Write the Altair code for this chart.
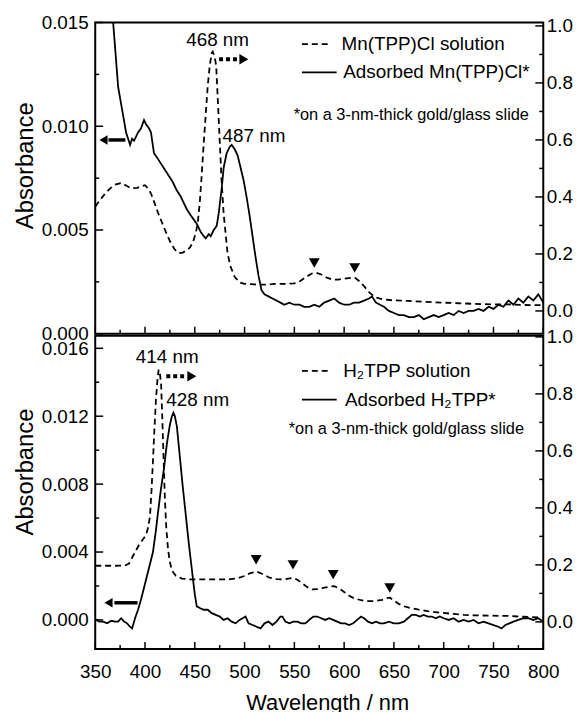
import altair as alt
import pandas as pd

FONT = "Liberation Sans"
W, H_TOP, H_BOT = 452, 314, 316
X_DOMAIN = [350, 800]

# ---------------- axis tick values ----------------
x_major = [350, 400, 450, 500, 550, 600, 650, 700, 750, 800]
x_minor = [375, 425, 475, 525, 575, 625, 675, 725, 775]
top_left_major = [0.0, 0.005, 0.010, 0.015]
top_left_minor = [0.0025, 0.0075, 0.0125]
bot_left_major = [0.0, 0.004, 0.008, 0.012, 0.016]
bot_left_minor = [0.002, 0.006, 0.010, 0.014]
right_major = [0.0, 0.2, 0.4, 0.6, 0.8, 1.0]
right_minor = [0.1, 0.3, 0.5, 0.7, 0.9]

# ---------------- top panel: Mn(TPP)Cl ----------------
mn_ads_wl = [366, 368, 373, 377, 381, 385, 387, 389, 393, 396, 399, 401, 404, 406, 409, 412, 416, 420,
             424, 428, 432, 436, 439, 442, 446, 449, 452, 456, 459, 461, 464, 466, 469, 472, 474, 477,
             479, 482, 485, 487, 490, 493, 496, 499, 502, 505, 508, 511, 514, 517, 520, 524, 528, 532,
             536, 540, 545, 550, 555, 560, 565, 570, 575, 580, 585, 590, 595, 600, 605, 610, 615, 620,
             625, 628, 632, 636, 640, 645, 650, 655, 660, 665, 670, 675, 680, 685, 690, 695, 700, 705,
             710, 715, 720, 725, 730, 735, 740, 745, 750, 755, 760, 765, 770, 775, 780, 785, 790, 795, 800]
mn_ads_abs = [0.0155, 0.0150, 0.0119, 0.0108, 0.0097, 0.0091, 0.0094, 0.0093, 0.0097, 0.0099, 0.0103,
              0.0101, 0.0099, 0.0097, 0.0087, 0.0085, 0.0082, 0.0079, 0.0076, 0.0073, 0.0069, 0.0066,
              0.0063, 0.0060, 0.0057, 0.0055, 0.0053, 0.0049, 0.0047, 0.0046, 0.0048, 0.0047, 0.0050,
              0.0052, 0.0058, 0.0070, 0.0080, 0.0087, 0.0090, 0.0091, 0.0089, 0.0086, 0.0080, 0.0074,
              0.0066, 0.0057, 0.0047, 0.0037, 0.0028, 0.0021, 0.0019, 0.0018, 0.0017, 0.0016, 0.0015,
              0.0014, 0.0015, 0.0014, 0.0014, 0.0013, 0.0013, 0.0014, 0.0013, 0.0015, 0.0016, 0.0017,
              0.0015, 0.0014, 0.0014, 0.0015, 0.0015, 0.0016, 0.0017, 0.0018, 0.0015, 0.0014, 0.0013,
              0.0011, 0.0010, 0.0009, 0.0009, 0.0008, 0.0008, 0.0009, 0.0007, 0.0008, 0.0009, 0.0008,
              0.0009, 0.0010, 0.0009, 0.0011, 0.0010, 0.0011, 0.0011, 0.0012, 0.0011, 0.0013, 0.0012,
              0.0014, 0.0013, 0.0016, 0.0014, 0.0017, 0.0015, 0.0018, 0.0016, 0.0019, 0.0015]

mn_sol_wl = [350, 355, 360, 365, 370, 376, 381, 386, 392, 397, 400, 403, 406, 410, 413, 416, 420, 423,
             426, 430, 434, 438, 442, 445, 448, 451, 453, 455, 457, 459, 461, 463, 465, 467, 468, 470,
             471.5, 473, 475, 477, 479, 481, 483, 486, 490, 495, 500, 510, 520, 530, 540, 550, 556, 562,
             568, 572, 577, 582, 588, 594, 600, 606, 611, 615, 620, 625, 631, 640, 650, 665, 680, 700,
             715, 730, 750, 765, 780, 800]
mn_sol_abs = [0.366, 0.390, 0.412, 0.430, 0.443, 0.449, 0.440, 0.430, 0.432, 0.438, 0.441, 0.430, 0.412,
              0.375, 0.345, 0.319, 0.285, 0.260, 0.238, 0.215, 0.203, 0.205, 0.213, 0.222, 0.240, 0.273,
              0.310, 0.380, 0.480, 0.590, 0.690, 0.790, 0.860, 0.905, 0.910, 0.890, 0.860, 0.750, 0.600,
              0.450, 0.340, 0.270, 0.200, 0.155, 0.120, 0.100, 0.095, 0.093, 0.092, 0.095, 0.095, 0.097,
              0.105, 0.120, 0.132, 0.134, 0.128, 0.118, 0.110, 0.110, 0.113, 0.116, 0.116, 0.105, 0.087,
              0.066, 0.048, 0.040, 0.037, 0.035, 0.032, 0.029, 0.027, 0.025, 0.023, 0.023, 0.021, 0.020]
mn_tri_wl = [570, 610.6]
mn_tri_abs = [0.168, 0.151]

# ---------------- bottom panel: H2TPP ----------------
h2_ads_wl = [350, 354, 358, 362, 366, 370, 373, 376, 379, 382, 385, 387, 390, 393, 396, 399, 402, 405,
             408, 411, 413, 416, 419, 422, 425, 427, 428.5, 430, 432, 434, 436, 438, 440, 442, 444, 446,
             448, 450, 452, 455, 459, 463, 467, 471, 475, 479, 483, 487, 491, 495, 498, 501, 504, 508,
             512, 516, 520, 524, 528, 532, 536, 538, 541, 545, 549, 553, 557, 561, 565, 569, 573, 577,
             581, 585, 589, 593, 597, 601, 605, 609, 613, 617, 620, 624, 628, 632, 636, 640, 645, 650,
             655, 660, 664, 668, 672, 676, 680, 684, 688, 692, 696, 700, 705, 710, 715, 720, 725, 730,
             735, 740, 745, 750, 755, 758, 762, 766, 770, 775, 780, 785, 790, 795, 800]
h2_ads_abs = [0.00004, -0.0001, -0.0001, -0.0002, -0.00005, -0.0001, -0.0001, 0.0001, -0.0001, -0.0002,
              -0.0004, -0.0005, 0.0001, 0.0006, 0.0012, 0.0019, 0.0026, 0.0033, 0.0040, 0.0053, 0.0063,
              0.0077, 0.0089, 0.0104, 0.0115, 0.0120, 0.0122, 0.0120, 0.0114, 0.0102, 0.0090, 0.0078,
              0.0067, 0.0056, 0.0045, 0.0035, 0.0025, 0.0015, 0.0008, 0.0007, 0.0006, 0.0006, 0.0004,
              0.0003, 0.0002, 0.0000, 0.0001, -0.0001, -0.0002, 0.0000, 0.0001, 0.0002, -0.0002, -0.0003,
              -0.0004, -0.0005, -0.0002, -0.0001, -0.0003, -0.0001, 0.0002, 0.0002, -0.0001, -0.0002,
              -0.0001, -0.0001, -0.0002, -0.0002, 0.0000, 0.0002, 0.0002, 0.0001, 0.0000, 0.0001, 0.0000,
              -0.0001, -0.0002, -0.0002, -0.0003, -0.0002, 0.0000, 0.0002, 0.0001, -0.0001, -0.0002,
              -0.0001, -0.0002, -0.0002, -0.0001, -0.0002, -0.0002, -0.0001, 0.0001, 0.0003, 0.0003,
              0.0002, 0.0003, 0.0002, 0.0002, 0.0001, 0.0002, 0.0001, 0.0000, 0.0001, -0.0001, 0.0000,
              -0.0001, 0.0000, -0.0002, -0.0001, -0.0002, -0.0003, -0.0004, -0.0005, -0.0003, -0.0002,
              -0.0001, 0.0000, 0.0001, 0.0001, 0.0000, 0.0001, -0.0001]

h2_sol_wl = [350, 360, 370, 380, 384, 387, 390, 394, 398, 401, 403, 405, 406.5, 408, 409.5, 411, 412.5,
             413.7, 415, 416.2, 417.5, 418.7, 420, 421.3, 423, 424.5, 427, 431, 437, 446, 460, 475, 486,
             493, 499, 505, 512, 518, 525, 532, 539, 544, 549, 553, 558, 563, 568, 574, 580, 586, 590,
             595, 600, 605, 610, 617, 624, 631, 638, 643, 646, 650, 655, 660, 665, 675, 685, 697, 710,
             720, 731, 745, 764, 780, 800]
h2_sol_abs = [0.197, 0.197, 0.197, 0.198, 0.205, 0.225, 0.245, 0.270, 0.290, 0.305, 0.330, 0.370, 0.460,
              0.566, 0.680, 0.780, 0.850, 0.885, 0.870, 0.832, 0.700, 0.566, 0.430, 0.334, 0.260, 0.218,
              0.180, 0.162, 0.152, 0.149, 0.149, 0.149, 0.150, 0.153, 0.160, 0.170, 0.177, 0.168, 0.155,
              0.150, 0.149, 0.152, 0.154, 0.148, 0.135, 0.122, 0.114, 0.115, 0.120, 0.124, 0.125, 0.118,
              0.105, 0.092, 0.083, 0.076, 0.073, 0.073, 0.077, 0.083, 0.085, 0.075, 0.063, 0.055, 0.050,
              0.043, 0.037, 0.032, 0.028, 0.025, 0.023, 0.022, 0.021, 0.018, 0.015]
h2_tri_wl = [511.6, 548.6, 589, 645.8]
h2_tri_abs = [0.218, 0.200, 0.166, 0.119]

# ---------------- annotations (data coordinates) ----------------
top_ann = dict(
    peaks=[("468 nm", 472.9, 0.952), ("487 nm", 509.4, 0.615)],
    left_arrow=(363.3, 380.3, 358.3, 0.00934),
    right_arrow=(474.4, 492.6, 499.3, 0.883),
    legend=[("Mn(TPP)Cl solution", 557.6, 587.5, 597.4, 0.936, True),
            ("Adsorbed Mn(TPP)Cl*", 557.6, 592.5, 599.1, 0.837, False)],
    note=(549.3, 0.689),
)
bot_ann = dict(
    peaks=[("414 nm", 422.3, 0.928), ("428 nm", 452.9, 0.777)],
    left_arrow=(369.2, 392.5, 363.3, 0.00101),
    right_arrow=(421.4, 440.0, 447.0, 0.862),
    legend=[("H\u2082TPP solution", 557.6, 587.5, 599.1, 0.881, True),
            ("Adsorbed H\u2082TPP*", 557.6, 592.5, 600.8, 0.780, False)],
    note=(544.3, 0.676),
)
NOTE_TEXT = "*on a 3-nm-thick gold/glass slide"

DASH = [6, 4]
LW = 1.8


def panel(H, left_dom, right_dom, left_major, left_minor, ads_wl, ads_abs, sol_wl, sol_abs,
          tri_wl, tri_abs, ann, show_x, title_y):
    xs = alt.Scale(domain=X_DOMAIN, nice=False, zero=False)
    ls = alt.Scale(domain=left_dom, nice=False, zero=False)
    rs = alt.Scale(domain=right_dom, nice=False, zero=False)

    # only the main layer of each scale carries explicit axis settings;
    # the other layers leave the axis unspecified so that the shared axis is kept.
    def X(field, main=False):
        if not show_x:
            return alt.X(field, scale=xs, axis=None)
        if main:
            return alt.X(field, scale=xs, axis=alt.Axis(
                values=x_major, format="d", labelPadding=14, labelFontSize=19,
                title="Wavelength / nm", titleFontSize=22, titleFontWeight="normal",
                titlePadding=11, titleX=234))
        return alt.X(field, scale=xs)

    def YL(field, main=False):
        if main:
            return alt.Y(field, scale=ls, axis=alt.Axis(
                values=left_major, format=".3f", labelPadding=7, labelFontSize=19,
                title="Absorbance", titleFontSize=24, titleFontWeight="normal",
                titlePadding=4, titleY=title_y))
        return alt.Y(field, scale=ls)

    def YR(field, main=False):
        if main:
            return alt.Y(field, scale=rs, axis=alt.Axis(
                orient="right", values=right_major, format=".1f", labelPadding=3,
                labelFontSize=19, title=""))
        return alt.Y(field, scale=rs)

    # ----- left-scale group -----
    ads = alt.Chart(pd.DataFrame({"wl": ads_wl, "v": ads_abs})).mark_line(
        color="black", strokeWidth=LW, clip=True).encode(x=X("wl:Q", True), y=YL("v:Q", True))
    lt_maj = alt.Chart(pd.DataFrame({"v": left_major})).mark_rule(color="black", strokeWidth=1.5).encode(
        y=YL("v:Q"), x=alt.value(0), x2=alt.value(8))
    lt_min = alt.Chart(pd.DataFrame({"v": left_minor})).mark_rule(color="black", strokeWidth=1.5).encode(
        y=YL("v:Q"), x=alt.value(0), x2=alt.value(4))
    xt_maj = alt.Chart(pd.DataFrame({"wl": x_major})).mark_rule(color="black", strokeWidth=1.5).encode(
        x=X("wl:Q"), y=alt.value(H), y2=alt.value(H - 7))
    xt_min = alt.Chart(pd.DataFrame({"wl": x_minor})).mark_rule(color="black", strokeWidth=1.5).encode(
        x=X("wl:Q"), y=alt.value(H), y2=alt.value(H - 4))
    a1, a2, ah, av = ann["left_arrow"]
    la_shaft = alt.Chart(pd.DataFrame({"wl": [a1], "wl2": [a2], "v": [av]})).mark_rule(
        color="black", strokeWidth=3.5).encode(x=X("wl:Q"), x2="wl2:Q", y=YL("v:Q"))
    la_head = alt.Chart(pd.DataFrame({"wl": [ah], "v": [av]})).mark_point(
        shape="triangle-left", filled=True, size=90, color="black", opacity=1).encode(
        x=X("wl:Q"), y=YL("v:Q"))
    left = alt.layer(ads, lt_maj, lt_min, xt_maj, xt_min, la_shaft, la_head)

    # ----- right-scale group -----
    sol = alt.Chart(pd.DataFrame({"wl": sol_wl, "r": sol_abs})).mark_line(
        color="black", strokeWidth=LW, strokeDash=DASH, clip=True).encode(
        x=X("wl:Q"), y=YR("r:Q", True))
    rt_maj = alt.Chart(pd.DataFrame({"r": right_major})).mark_rule(color="black", strokeWidth=1.5).encode(
        y=YR("r:Q"), x=alt.value(W), x2=alt.value(W - 8))
    rt_min = alt.Chart(pd.DataFrame({"r": right_minor})).mark_rule(color="black", strokeWidth=1.5).encode(
        y=YR("r:Q"), x=alt.value(W), x2=alt.value(W - 4))
    tri = alt.Chart(pd.DataFrame({"wl": tri_wl, "r": tri_abs})).mark_point(
        shape="triangle-down", filled=True, size=120, color="black", opacity=1).encode(
        x=X("wl:Q"), y=YR("r:Q"))
    d1, d2, dh, dv = ann["right_arrow"]
    ra_shaft = alt.Chart(pd.DataFrame({"wl": [d1], "wl2": [d2], "r": [dv]})).mark_rule(
        color="black", strokeWidth=4, strokeDash=[4, 3]).encode(x=X("wl:Q"), x2="wl2:Q", y=YR("r:Q"))
    ra_head = alt.Chart(pd.DataFrame({"wl": [dh], "r": [dv]})).mark_point(
        shape="triangle-right", filled=True, size=110, color="black", opacity=1).encode(
        x=X("wl:Q"), y=YR("r:Q"))
    peaks = alt.Chart(pd.DataFrame({"label": [p[0] for p in ann["peaks"]],
                                    "wl": [p[1] for p in ann["peaks"]],
                                    "r": [p[2] for p in ann["peaks"]]})).mark_text(
        font=FONT, fontSize=19, align="center", baseline="middle", color="black").encode(
        x=X("wl:Q"), y=YR("r:Q"), text="label:N")
    leg_layers = []
    for label, s1, s2, tx, v, dashed in ann["legend"]:
        line_kw = dict(color="black", strokeWidth=LW)
        if dashed:
            line_kw["strokeDash"] = DASH
        leg_layers.append(alt.Chart(pd.DataFrame({"wl": [s1], "wl2": [s2], "r": [v]})).mark_rule(
            **line_kw).encode(x=X("wl:Q"), x2="wl2:Q", y=YR("r:Q")))
        leg_layers.append(alt.Chart(pd.DataFrame({"label": [label], "wl": [tx], "r": [v]})).mark_text(
            font=FONT, fontSize=19, align="left", baseline="middle", color="black").encode(
            x=X("wl:Q"), y=YR("r:Q"), text="label:N"))
    nx, nv = ann["note"]
    note = alt.Chart(pd.DataFrame({"label": [NOTE_TEXT], "wl": [nx], "r": [nv]})).mark_text(
        font=FONT, fontSize=16.5, align="left", baseline="middle", color="black").encode(
        x=X("wl:Q"), y=YR("r:Q"), text="label:N")
    right = alt.layer(sol, rt_maj, rt_min, tri, ra_shaft, ra_head, peaks, *leg_layers, note)

    return alt.layer(left, right).resolve_scale(y="independent").properties(width=W, height=H)


top = panel(H_TOP, [0, 0.015], [-0.08, 1.012], top_left_major, top_left_minor,
            mn_ads_wl, mn_ads_abs, mn_sol_wl, mn_sol_abs, mn_tri_wl, mn_tri_abs,
            top_ann, False, 144)
bottom = panel(H_BOT, [-0.00171, 0.01674], [-0.095, 1.004], bot_left_major, bot_left_minor,
               h2_ads_wl, h2_ads_abs, h2_sol_wl, h2_sol_abs, h2_tri_wl, h2_tri_abs,
               bot_ann, True, 137)

chart = alt.vconcat(top, bottom, spacing=2, bounds="flush").properties(
    padding={"left": 4, "top": 1.5, "right": 0, "bottom": 0},
    background="white",
).configure_view(stroke="black", strokeWidth=2).configure_axis(
    labelFont=FONT, titleFont=FONT, labelColor="black", titleColor="black",
    ticks=False, domain=False, grid=False, labelFlush=False
).configure_text(font=FONT)

chart.save("out.html", embed_options={"renderer": "svg", "actions": False})
